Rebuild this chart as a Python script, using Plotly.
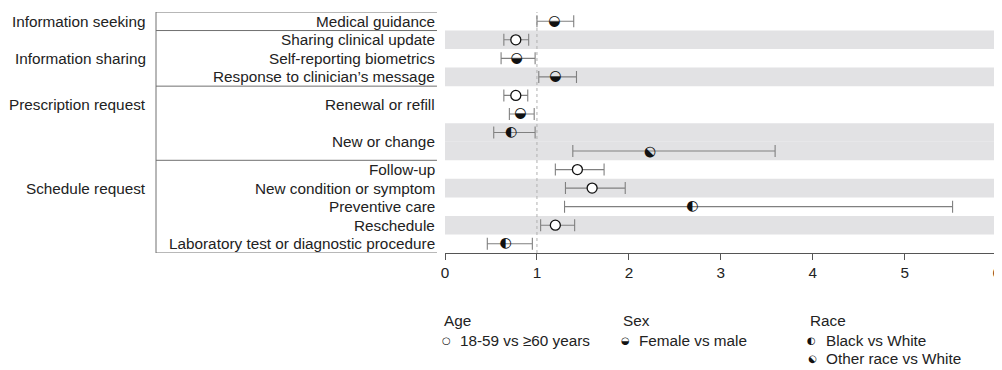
import plotly.graph_objects as go

# ---------------- data ----------------
subcategories = ["Medical guidance", "Sharing clinical update", "Self-reporting biometrics",
                 "Response to clinician\u2019s message", "Renewal or refill", "New or change",
                 "Follow-up", "New condition or symptom", "Preventive care", "Reschedule",
                 "Laboratory test or diagnostic procedure"]
sub_slots = [[0], [1], [2], [3], [4, 5], [6, 7], [8], [9], [10], [11], [12]]

groups = ["Information seeking", "Information sharing", "Prescription request", "Schedule request"]
group_slots = [[0], [1, 2, 3], [4, 5, 6, 7], [8, 9, 10, 11, 12]]
group_label_slot = [0, 2, 4.5, 9]

# one entry per plotted estimate (row slot order, top to bottom)
comparison = ["sex", "age", "sex", "sex", "age", "sex", "black", "other",
              "age", "age", "black", "age", "black"]
odds_ratio = [1.19, 0.77, 0.78, 1.20, 0.77, 0.82, 0.72, 2.22, 1.44, 1.60, 2.69, 1.20, 0.66]
ci_low = [1.00, 0.64, 0.61, 1.02, 0.64, 0.70, 0.53, 1.39, 1.20, 1.31, 1.30, 1.04, 0.46]
ci_high = [1.40, 0.91, 0.98, 1.43, 0.90, 0.97, 0.98, 3.59, 1.73, 1.96, 5.52, 1.41, 0.95]
shaded_slots = [1, 3, 6, 7, 9, 11]

x_ticks = [0, 1, 2, 3, 4, 5, 6]
reference_value = 1

legend_groups = ["Age", "Sex", "Race"]
legend_items = [[("age", "18-59 vs \u226560 years")],
                [("sex", "Female vs male")],
                [("black", "Black vs White"), ("other", "Other race vs White")]]

# ---------------- style ----------------
FONT = "Liberation Sans, Arial, Helvetica, sans-serif"
FS = 15.3
GLYPH_FONT = "DejaVu Sans"
TXT = "#222222"
GLYPH = {"sex": "\u25D2", "black": "\u25D0", "other": "\u25D0", "age": "\u25CB"}
GLYPH_ANGLE = {"sex": 0, "black": 0, "other": -45, "age": 0}

n_slots = len(comparison)
slots = list(range(n_slots))

fig = go.Figure()

# shaded bands
for s in shaded_slots:
    fig.add_shape(type="rect", xref="paper", yref="y", x0=0, x1=1.004, y0=s - 0.5, y1=s + 0.5,
                  fillcolor="#e2e2e4", line_width=0, layer="below")

# reference line
fig.add_shape(type="line", xref="x", yref="paper", x0=reference_value, x1=reference_value,
              y0=0, y1=1, line=dict(color="#b0b0b0", width=1, dash="dot"), layer="below")

# error bars
fig.add_trace(go.Scatter(
    x=odds_ratio, y=slots, mode="markers",
    marker=dict(size=1, color="rgba(0,0,0,0)"),
    error_x=dict(type="data", symmetric=False,
                 array=[h - o for h, o in zip(ci_high, odds_ratio)],
                 arrayminus=[o - l for o, l in zip(odds_ratio, ci_low)],
                 color="#808080", thickness=1.1, width=6),
    showlegend=False, hoverinfo="skip"))

# age: open circle markers
age_idx = [i for i, c in enumerate(comparison) if c == "age"]
fig.add_trace(go.Scatter(
    x=[odds_ratio[i] for i in age_idx], y=[slots[i] for i in age_idx], mode="markers",
    marker=dict(symbol="circle", size=10, color="white", line=dict(color="#111", width=1.3)),
    showlegend=False))

# half-filled glyph markers
for kind in ["sex", "black"]:
    idx = [i for i, c in enumerate(comparison) if c == kind]
    fig.add_trace(go.Scatter(
        x=[odds_ratio[i] for i in idx], y=[slots[i] for i in idx], mode="text",
        text=[GLYPH[kind]] * len(idx), textposition="middle center",
        textfont=dict(family=GLYPH_FONT, size=14, color="#111"),
        showlegend=False))
for i, c in enumerate(comparison):
    if c == "other":
        fig.add_annotation(x=odds_ratio[i], y=slots[i], xref="x", yref="y", text=GLYPH[c],
                           showarrow=False, textangle=GLYPH_ANGLE[c],
                           font=dict(family=GLYPH_FONT, size=14, color="#111"))

# left table: lines
TABLE_X0, TABLE_X1 = -0.5226, -0.0145
boundaries = [group_slots[0][0] - 0.5] + [g[-1] + 0.5 for g in group_slots]
for b in boundaries:
    fig.add_shape(type="line", xref="paper", yref="y", x0=TABLE_X0, x1=TABLE_X1, y0=b, y1=b,
                  line=dict(color="#707070", width=1))
fig.add_shape(type="line", xref="paper", yref="y", x0=TABLE_X0, x1=TABLE_X0,
              y0=boundaries[0], y1=boundaries[-1], line=dict(color="#707070", width=1))

# sub-category labels
for name, ss in zip(subcategories, sub_slots):
    fig.add_annotation(x=TABLE_X1, y=sum(ss) / len(ss), xref="paper", yref="y", text=name,
                       showarrow=False, xanchor="right", yanchor="middle",
                       font=dict(family=FONT, size=FS, color=TXT))
# group labels
for name, ys in zip(groups, group_label_slot):
    fig.add_annotation(x=-0.537, y=ys, xref="paper", yref="y", text=name,
                       showarrow=False, xanchor="right", yanchor="middle",
                       font=dict(family=FONT, size=FS, color=TXT))

# custom legend
leg_x = [0.0, 0.324, 0.661]
for gx, head, items in zip(leg_x, legend_groups, legend_items):
    fig.add_annotation(x=gx - 0.005, y=-0.282, xref="paper", yref="paper", text=head,
                       showarrow=False, xanchor="left", yanchor="middle",
                       font=dict(family=FONT, size=FS, color=TXT))
    for k, (kind, label) in enumerate(items):
        yy = -0.361 - 0.075 * k
        fig.add_annotation(x=gx + 0.002, y=yy, xref="paper", yref="paper", text=GLYPH[kind],
                           showarrow=False, xanchor="center", yanchor="middle",
                           textangle=GLYPH_ANGLE[kind],
                           font=dict(family=GLYPH_FONT, size=10, color="#111"))
        fig.add_annotation(x=gx + 0.024, y=yy, xref="paper", yref="paper", text=label,
                           showarrow=False, xanchor="left", yanchor="middle",
                           font=dict(family=FONT, size=FS, color=TXT))

fig.update_layout(
    width=994, height=362,
    margin=dict(l=437, r=4, t=4, b=117, autoexpand=False),
    paper_bgcolor="white", plot_bgcolor="white",
    showlegend=False,
    font=dict(family=FONT, size=FS, color=TXT),
    xaxis=dict(range=[0, 6.014], tickvals=x_ticks, showgrid=False, zeroline=False,
               showline=True, linecolor="#555", linewidth=1.2,
               ticks="outside", ticklen=6, tickcolor="#555", tickwidth=1.2,
               ticklabeloverflow="allow", automargin=False,
               tickfont=dict(family=FONT, size=FS, color=TXT)),
    yaxis=dict(range=[n_slots - 0.5, -0.5], showgrid=False, zeroline=False, automargin=False,
               showticklabels=False, showline=False, ticks=""),
)

fig.write_html("out.html")
